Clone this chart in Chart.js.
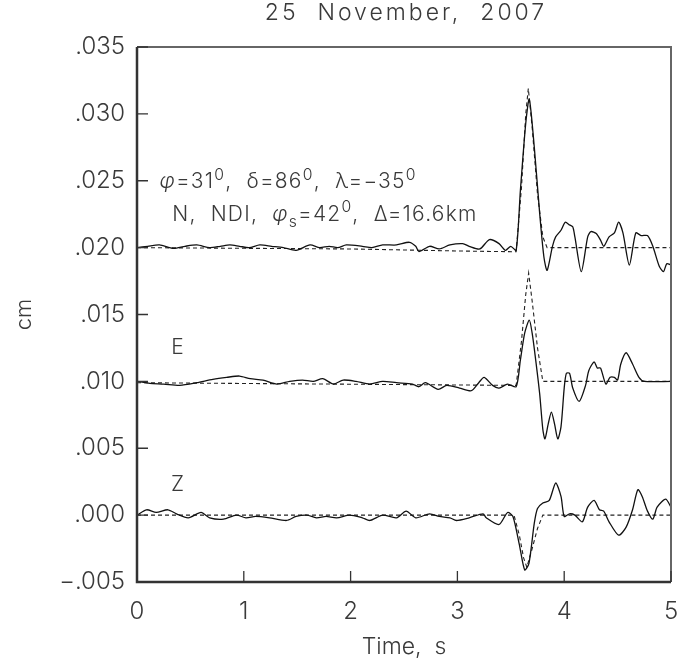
<!DOCTYPE html>
<html lang="en">
<head>
    <meta charset="UTF-8">
    <title>25 November, 2007</title>
    <script src="https://cdn.jsdelivr.net/npm/chart.js"></script>
    <style>
        body { margin: 0; background: #fff; }
        #wrap { width: 683px; height: 661px; }
    </style>
</head>
<body>
    <div id="wrap"><canvas id="traces" width="683" height="661"></canvas></div>

    <script>
        // observed (solid) and synthetic (dashed) traces, [time s, displacement cm]
        const nObs = [[0,0.0200],[0.1,0.0201],[0.21,0.0202],[0.34,0.01994],[0.45,0.0201],[0.56,0.0202],[0.68,0.0200],[0.78,0.0201],[0.87,0.0202],[0.96,0.0201],[1.05,0.0200],[1.15,0.0202],[1.26,0.0201],[1.37,0.0200],[1.49,0.0198],[1.62,0.0202],[1.71,0.0200],[1.80,0.0201],[1.88,0.0200],[1.96,0.0202],[2.11,0.0201],[2.20,0.0200],[2.30,0.0202],[2.43,0.0202],[2.55,0.0204],[2.61,0.0201],[2.64,0.0197],[2.74,0.0201],[2.83,0.0199],[2.93,0.0202],[3.05,0.0203],[3.11,0.0201],[3.21,0.0199],[3.30,0.0206],[3.39,0.0203],[3.45,0.0198],[3.50,0.0201],[3.55,0.0198],[3.59,0.0243],[3.64,0.0293],[3.673,0.0311],[3.72,0.0275],[3.77,0.0226],[3.81,0.0193],[3.84,0.0183],[3.89,0.0201],[3.92,0.0208],[3.97,0.0213],[4.01,0.0219],[4.05,0.0217],[4.08,0.02156],[4.10,0.0208],[4.16,0.0182],[4.22,0.0208],[4.25,0.0212],[4.30,0.02106],[4.34,0.02056],[4.37,0.0201],[4.42,0.0208],[4.47,0.0211],[4.51,0.0219],[4.55,0.0211],[4.61,0.0187],[4.67,0.0211],[4.72,0.0209],[4.78,0.0209],[4.83,0.0201],[4.89,0.0186],[4.93,0.0182],[4.96,0.0188],[5.0,0.0187]];
        const nSyn = [[0,0.0200],[1.0,0.01995],[2.0,0.0199],[3.0,0.01975],[3.55,0.01969],[3.60,0.0245],[3.64,0.0300],[3.664,0.0319],[3.70,0.0290],[3.75,0.0240],[3.80,0.0208],[3.84,0.0200],[5.0,0.0200]];

        const eObs = [[0,0.0100],[0.12,0.00985],[0.25,0.0098],[0.40,0.0097],[0.56,0.0099],[0.71,0.01015],[0.84,0.0103],[0.96,0.0104],[1.06,0.0102],[1.18,0.0101],[1.31,0.0098],[1.43,0.0100],[1.55,0.0101],[1.65,0.0100],[1.74,0.0102],[1.84,0.0098],[1.93,0.0101],[2.05,0.0100],[2.18,0.0098],[2.30,0.0100],[2.43,0.0099],[2.58,0.0098],[2.64,0.0096],[2.70,0.0099],[2.82,0.0094],[2.90,0.0097],[3.02,0.0095],[3.13,0.0093],[3.20,0.0099],[3.25,0.0103],[3.33,0.0097],[3.39,0.0095],[3.47,0.0098],[3.55,0.0096],[3.59,0.0116],[3.63,0.0136],[3.673,0.01458],[3.70,0.0136],[3.73,0.0118],[3.77,0.0091],[3.80,0.0064],[3.82,0.0057],[3.85,0.0068],[3.88,0.0077],[3.91,0.0068],[3.94,0.0057],[3.97,0.0066],[4.00,0.0095],[4.02,0.0106],[4.05,0.0106],[4.08,0.0095],[4.14,0.0085],[4.20,0.0097],[4.23,0.0108],[4.28,0.01146],[4.31,0.0110],[4.34,0.0110],[4.39,0.0098],[4.43,0.0103],[4.47,0.0103],[4.50,0.0101],[4.53,0.0113],[4.58,0.01214],[4.64,0.0113],[4.70,0.0103],[4.75,0.0100],[5.0,0.0100]];
        const eSyn = [[0,0.0099],[3.55,0.0097],[3.60,0.0130],[3.64,0.0165],[3.667,0.0181],[3.70,0.0160],[3.75,0.0125],[3.80,0.0100],[5.0,0.0100]];

        const zObs = [[0,0.0],[0.09,0.0004],[0.18,0.0002],[0.29,0.0004],[0.37,0.0001],[0.48,-0.0002],[0.60,0.0002],[0.68,-0.0002],[0.81,-0.0003],[0.93,0.0],[1.02,-0.0002],[1.11,-0.0001],[1.24,-0.0002],[1.40,-0.0004],[1.49,-0.0001],[1.59,0.0],[1.68,-0.0002],[1.77,-0.0001],[1.87,-0.0002],[1.99,0.0],[2.11,-0.0002],[2.18,-0.0004],[2.30,0.0],[2.43,-0.0002],[2.52,0.0003],[2.61,-0.0002],[2.74,0.0001],[2.83,-0.0001],[2.93,-0.0002],[2.99,-0.0004],[3.11,-0.0002],[3.24,0.0001],[3.27,-0.0002],[3.39,-0.0007],[3.47,0.0002],[3.52,-0.0001],[3.58,-0.0022],[3.63,-0.0041],[3.67,-0.0036],[3.72,-0.0006],[3.75,0.0005],[3.80,0.0009],[3.86,0.0011],[3.92,0.0024],[3.97,0.0014],[4.00,-0.0001],[4.05,0.0001],[4.10,0.0],[4.17,-0.0005],[4.22,0.0006],[4.28,0.0011],[4.33,0.0004],[4.37,0.0003],[4.42,-0.0005],[4.51,-0.0015],[4.58,-0.0009],[4.64,0.0004],[4.69,0.0019],[4.73,0.0014],[4.78,0.0003],[4.83,-0.0003],[4.87,0.0006],[4.95,0.0012],[5.0,0.0006]];
        const zSyn = [[0,0.0],[3.53,0.0],[3.58,-0.0015],[3.62,-0.0032],[3.65,-0.0039],[3.70,-0.0025],[3.75,-0.0010],[3.80,0.0],[5.0,0.0]];

        const xTicks = [0, 1, 2, 3, 4, 5];
        const yTicks = [-0.005, 0, 0.005, 0.010, 0.015, 0.020, 0.025, 0.030, 0.035];
        const chartTitle = '25  November,  2007';
        const traceLabels = [['E', 0.0125], ['Z', 0.0023]];

        const FONT = 'Inter, "DejaVu Sans", sans-serif';
        const WEIGHT = 300;
        const INK = '#3a3a3a';

        function toPoints(arr) {
            return arr.map(p => ({ x: p[0], y: p[1] }));
        }
        function solid(arr) {
            return { data: toPoints(arr), borderColor: '#111', borderWidth: 1.3, pointRadius: 0, tension: 0.25, showLine: true };
        }
        function dashed(arr) {
            return { data: toPoints(arr), borderColor: '#222', borderWidth: 1.1, borderDash: [4, 3], pointRadius: 0, tension: 0, showLine: true };
        }
        function yLabel(v) {
            const s = Math.abs(v).toFixed(3).replace(/^0/, '');
            return v < -1e-9 ? '\u2212' + s : s;
        }

        // text pieces: [text, 'n' | 'sup' | 'sub' | 'it']
        function richText(ctx, pieces, x, y, size) {
            let cx = x;
            ctx.letterSpacing = '1.2px';
            pieces.forEach(([t, kind]) => {
                let fs = size, dy = 0, style = '';
                if (kind === 'sup') { fs = size * 0.75; dy = -size * 0.4; }
                if (kind === 'sub') { fs = size * 0.75; dy = size * 0.3; }
                if (kind === 'it') style = 'italic ';
                ctx.font = style + WEIGHT + ' ' + fs + 'px ' + FONT;
                ctx.fillText(t, cx, y + dy);
                cx += ctx.measureText(t).width;
            });
            ctx.letterSpacing = '0px';
        }

        const framePlugin = {
            id: 'frame',
            afterDraw(chart) {
                const { ctx, chartArea: a, scales } = chart;
                ctx.save();
                // box
                ctx.strokeStyle = '#666';
                ctx.lineWidth = 2;
                ctx.beginPath();
                ctx.moveTo(a.left, a.top); ctx.lineTo(a.right, a.top); ctx.lineTo(a.right, a.bottom);
                ctx.stroke();
                ctx.strokeStyle = '#333';
                ctx.lineWidth = 2.5;
                ctx.beginPath();
                ctx.moveTo(a.left, a.top); ctx.lineTo(a.left, a.bottom); ctx.lineTo(a.right, a.bottom);
                ctx.stroke();
                // inward ticks
                ctx.lineWidth = 1.3;
                ctx.beginPath();
                yTicks.forEach(v => {
                    const py = scales.y.getPixelForValue(v);
                    ctx.moveTo(a.left, py); ctx.lineTo(a.left + 11, py);
                });
                xTicks.forEach(v => {
                    const px = scales.x.getPixelForValue(v);
                    ctx.moveTo(px, a.bottom); ctx.lineTo(px, a.bottom - 11);
                });
                ctx.stroke();

                // title
                ctx.fillStyle = INK;
                ctx.textAlign = 'center';
                ctx.textBaseline = 'middle';
                ctx.font = WEIGHT + ' 23px ' + FONT;
                ctx.letterSpacing = '3px';
                ctx.fillText(chartTitle, (a.left + a.right) / 2 + 2, 13);
                ctx.letterSpacing = '0px';

                // source parameters
                ctx.textAlign = 'left';
                ctx.textBaseline = 'alphabetic';
                const fx = v => scales.x.getPixelForValue(v);
                const fy = v => scales.y.getPixelForValue(v);
                richText(ctx, [['\u03c6', 'it'], ['=31', 'n'], ['0', 'sup'], [',  \u03b4=86', 'n'], ['0', 'sup'], [',  \u03bb=\u221235', 'n'], ['0', 'sup']], fx(0.21), fy(0.02445), 21);
                richText(ctx, [['N,  NDI,  ', 'n'], ['\u03c6', 'it'], ['s', 'sub'], ['=42', 'n'], ['0', 'sup'], [',  \u0394=16.6km', 'n']], fx(0.33), fy(0.0220), 21);

                ctx.textAlign = 'center';
                ctx.textBaseline = 'middle';
                ctx.font = WEIGHT + ' 21px ' + FONT;
                traceLabels.forEach(([t, v]) => ctx.fillText(t, fx(0.38), fy(v)));
                ctx.restore();
            }
        };

        new Chart(document.getElementById('traces'), {
            type: 'scatter',
            data: {
                datasets: [solid(nObs), dashed(nSyn), solid(eObs), dashed(eSyn), solid(zObs), dashed(zSyn)]
            },
            options: {
                responsive: false,
                animation: false,
                layout: { padding: { top: 47, right: 12, left: 0, bottom: 0 } },
                plugins: { legend: { display: false }, tooltip: { enabled: false } },
                scales: {
                    x: {
                        type: 'linear', min: 0, max: 5,
                        afterFit: s => { s.height = 79; s.paddingLeft = 0; s.paddingRight = 0; },
                        afterBuildTicks: s => { s.ticks = xTicks.map(v => ({ value: v })); },
                        grid: { display: false, drawTicks: false },
                        border: { display: false },
                        ticks: { color: INK, padding: 15, font: { family: FONT, size: 24, weight: WEIGHT } },
                        title: { display: true, text: 'Time,  s', color: INK, padding: { bottom: 0 }, font: { family: FONT, size: 23, weight: WEIGHT } }
                    },
                    y: {
                        min: -0.005, max: 0.035,
                        afterFit: s => { s.width = 137; },
                        afterBuildTicks: s => { s.ticks = yTicks.map(v => ({ value: v })); },
                        grid: { display: false, drawTicks: false },
                        border: { display: false },
                        ticks: { color: INK, padding: 12, callback: v => yLabel(v), font: { family: FONT, size: 24, weight: WEIGHT } },
                        title: { display: true, text: 'cm', color: INK, padding: { top: 11 }, font: { family: FONT, size: 22, weight: WEIGHT } }
                    }
                }
            },
            plugins: [framePlugin]
        });
    </script>
</body>
</html>
